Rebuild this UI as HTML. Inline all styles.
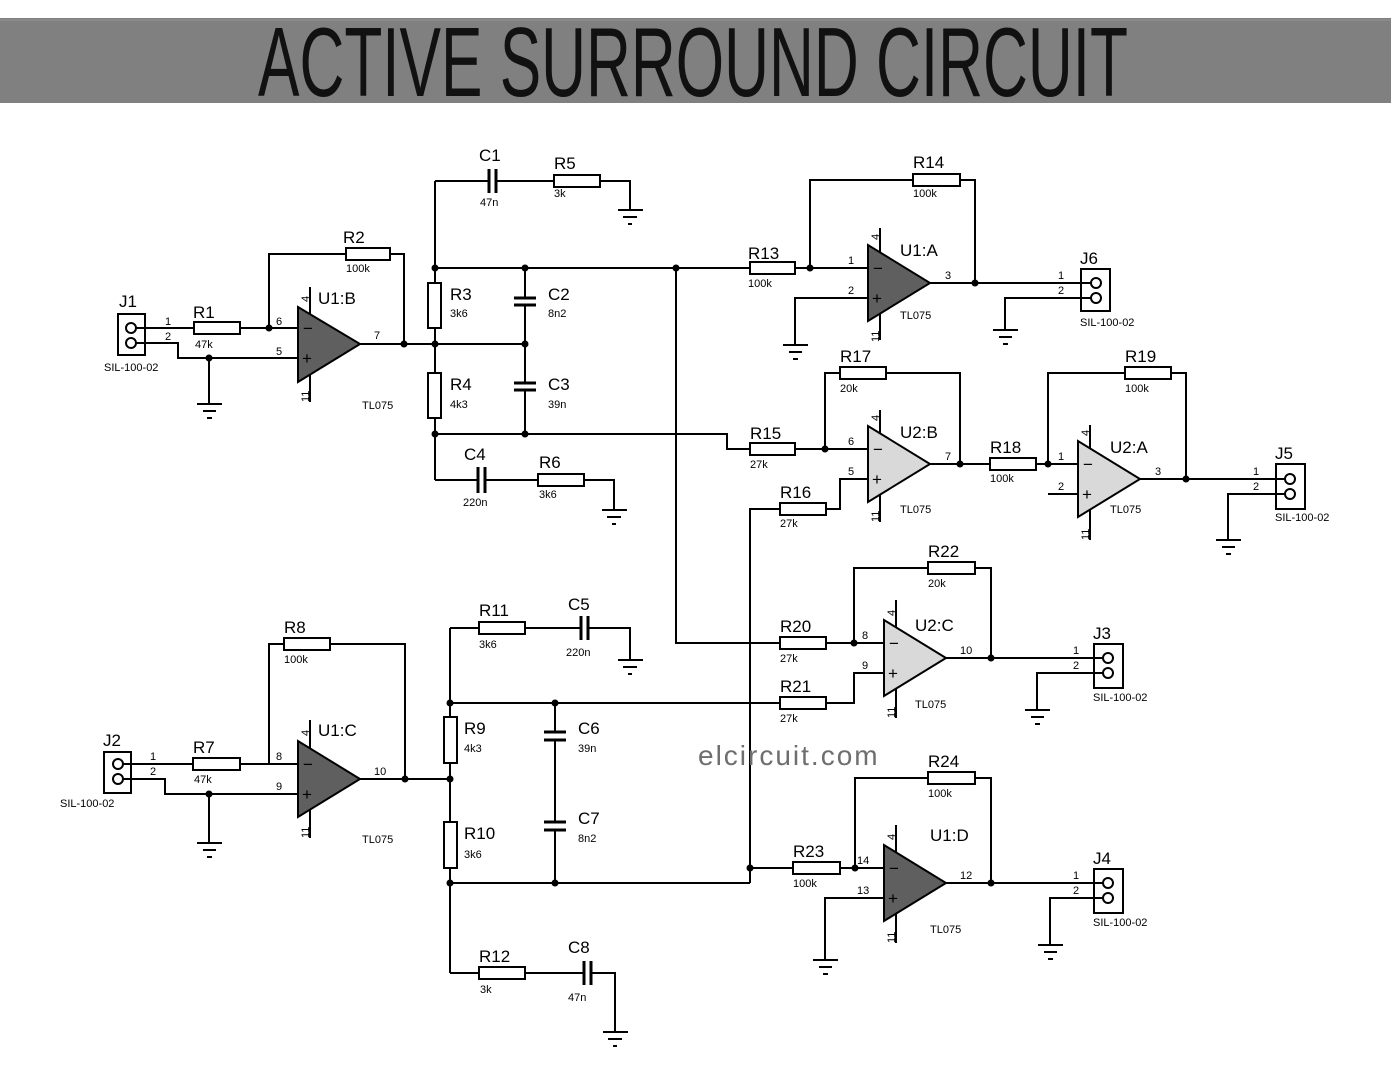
<!DOCTYPE html>
<html><head><meta charset="utf-8"><style>
html,body{margin:0;padding:0;background:#fff;}
svg{display:block;}
.w{stroke:#000;stroke-width:2;fill:none;}
.r{stroke:#000;stroke-width:2;fill:#fff;}
.c{stroke:#000;stroke-width:3;}
.ln{font-family:"Liberation Sans",sans-serif;font-size:17px;fill:#000;}
.v{font-family:"Liberation Sans",sans-serif;font-size:11px;fill:#000;}
.p{font-family:"Liberation Sans",sans-serif;font-size:11px;fill:#000;}
.d{fill:#000;}
.u1{fill:#5f5f5f;stroke:#000;stroke-width:2;}
.u2{fill:#d9d9d9;stroke:#000;stroke-width:2;}
.pm{font-family:"Liberation Sans",sans-serif;font-size:17px;fill:#000;}
</style></head><body>
<svg width="1393" height="1079" viewBox="0 0 1393 1079" xmlns="http://www.w3.org/2000/svg">
<rect x="0" y="18" width="1391" height="85" fill="#808080"/>
<line x1="0" y1="20" x2="1391" y2="20" stroke="#8a8a8a" stroke-width="2"/>
<text x="258" y="96" font-family="'Liberation Sans Narrow','Liberation Sans',sans-serif" font-size="98" textLength="870" lengthAdjust="spacingAndGlyphs" fill="#111">ACTIVE SURROUND CIRCUIT</text>

<!-- ========== J1 / U1:B ========== -->
<rect x="118" y="314" width="27" height="41" class="w"/>
<circle cx="131" cy="328" r="5" class="r" stroke-width="2.5"/>
<circle cx="131" cy="343" r="5" class="r" stroke-width="2.5"/>
<text x="119" y="307" class="ln">J1</text>
<text x="104" y="371" class="v">SIL-100-02</text>
<text x="165" y="325" class="p">1</text><text x="165" y="340" class="p">2</text>
<path d="M136 328H194M240 328H298M136 343H178V358H298" class="w"/>
<rect x="194" y="322" width="46" height="12" class="r"/>
<text x="193" y="318" class="ln">R1</text><text x="195" y="348" class="v">47k</text>
<circle cx="269" cy="328" r="3.5" class="d"/><circle cx="209" cy="358" r="3.5" class="d"/>
<path d="M209 358V404M197 404H222M203 411H216M207 418H212" class="w"/>
<text x="276" y="325" class="p">6</text><text x="276" y="355" class="p">5</text>
<path d="M269 328V254H346M390 254H404V344" class="w"/>
<rect x="346" y="248" width="44" height="12" class="r"/>
<text x="343" y="243" class="ln">R2</text><text x="346" y="272" class="v">100k</text>
<line x1="310" y1="287" x2="310" y2="402" class="w"/>
<polygon points="298,307 298,382 360,344" class="u1"/>
<text x="303" y="334" class="pm">−</text><text x="302" y="364" class="pm">+</text>
<text transform="translate(309,302) rotate(-90)" class="p">4</text>
<text transform="translate(309,402) rotate(-90)" class="p">11</text>
<text x="318" y="304" class="ln">U1:B</text><text x="362" y="409" class="v">TL075</text>
<text x="374" y="339" class="p">7</text>
<path d="M360 344H525" class="w"/>
<circle cx="404" cy="344" r="3.5" class="d"/><circle cx="435" cy="344" r="3.5" class="d"/><circle cx="525" cy="344" r="3.5" class="d"/>
<path d="M435 181V480" class="w"/>
<rect x="428" y="283" width="13" height="45" class="r"/>
<rect x="428" y="373" width="13" height="45" class="r"/>
<text x="450" y="300" class="ln">R3</text><text x="450" y="317" class="v">3k6</text>
<text x="450" y="390" class="ln">R4</text><text x="450" y="408" class="v">4k3</text>
<circle cx="435" cy="268" r="3.5" class="d"/><circle cx="435" cy="434" r="3.5" class="d"/>
<path d="M435 268H750" class="w"/>
<circle cx="525" cy="268" r="3.5" class="d"/><circle cx="676" cy="268" r="3.5" class="d"/>
<path d="M525 268V298M525 305V383M525 390V434" class="w"/>
<path d="M514 298H536M514 305H536M514 383H536M514 390H536" class="c"/>
<text x="548" y="300" class="ln">C2</text><text x="548" y="317" class="v">8n2</text>
<text x="548" y="390" class="ln">C3</text><text x="548" y="408" class="v">39n</text>
<path d="M435 434H727V449H750" class="w"/>
<circle cx="525" cy="434" r="3.5" class="d"/>
<!-- C1 R5 -->
<path d="M435 181H489M496 181H554M600 181H630V210M618 210H643M623 217H637M628 224H632" class="w"/>
<path d="M489 169V193M496 169V193" class="c"/>
<rect x="554" y="175" width="46" height="12" class="r"/>
<text x="479" y="161" class="ln">C1</text><text x="480" y="206" class="v">47n</text>
<text x="554" y="169" class="ln">R5</text><text x="554" y="197" class="v">3k</text>
<!-- C4 R6 -->
<path d="M435 480H478M485 480H538M584 480H614V510M602 510H627M607 517H621M612 524H616" class="w"/>
<path d="M478 467V493M485 467V493" class="c"/>
<rect x="538" y="474" width="46" height="12" class="r"/>
<text x="464" y="460" class="ln">C4</text><text x="463" y="506" class="v">220n</text>
<text x="539" y="468" class="ln">R6</text><text x="539" y="498" class="v">3k6</text>
<path d="M676 268V643H780" class="w"/>

<!-- ========== U1:A ========== -->
<rect x="750" y="262" width="45" height="12" class="r"/>
<text x="748" y="259" class="ln">R13</text><text x="748" y="287" class="v">100k</text>
<path d="M795 268H868" class="w"/><circle cx="810" cy="268" r="3.5" class="d"/>
<path d="M810 268V180H913M960 180H975V283" class="w"/>
<rect x="913" y="174" width="47" height="12" class="r"/>
<text x="913" y="168" class="ln">R14</text><text x="913" y="197" class="v">100k</text>
<line x1="880" y1="228" x2="880" y2="340" class="w"/>
<polygon points="868,245 868,321 930,283" class="u1"/>
<text x="873" y="274" class="pm">−</text><text x="872" y="304" class="pm">+</text>
<text transform="translate(879,240) rotate(-90)" class="p">4</text>
<text transform="translate(879,342) rotate(-90)" class="p">11</text>
<text x="900" y="256" class="ln">U1:A</text><text x="900" y="319" class="v">TL075</text>
<text x="848" y="264" class="p">1</text><text x="848" y="294" class="p">2</text><text x="945" y="279" class="p">3</text>
<path d="M930 283H1091M868 298H795V345M783 345H808M789 352H802M793 359H798" class="w"/>
<circle cx="975" cy="283" r="3.5" class="d"/>
<rect x="1081" y="269" width="29" height="42" class="w"/>
<circle cx="1096" cy="283" r="5" class="r" stroke-width="2.5"/><circle cx="1096" cy="298" r="5" class="r" stroke-width="2.5"/>
<text x="1080" y="264" class="ln">J6</text><text x="1080" y="326" class="v">SIL-100-02</text>
<text x="1058" y="279" class="p">1</text><text x="1058" y="294" class="p">2</text>
<path d="M1091 298H1005V330M993 330H1018M999 337H1012M1003 344H1008" class="w"/>

<!-- ========== U2:B ========== -->
<rect x="750" y="443" width="45" height="12" class="r"/>
<text x="750" y="439" class="ln">R15</text><text x="750" y="468" class="v">27k</text>
<path d="M795 449H868" class="w"/><circle cx="825" cy="449" r="3.5" class="d"/>
<path d="M825 449V373H840M886 373H960V464" class="w"/>
<rect x="840" y="367" width="46" height="12" class="r"/>
<text x="840" y="362" class="ln">R17</text><text x="840" y="392" class="v">20k</text>
<path d="M750 883V509H780M826 509H840V479H868" class="w"/>
<rect x="780" y="503" width="46" height="12" class="r"/>
<text x="780" y="498" class="ln">R16</text><text x="780" y="527" class="v">27k</text>
<line x1="880" y1="410" x2="880" y2="522" class="w"/>
<polygon points="868,426 868,502 930,464" class="u2"/>
<text x="873" y="455" class="pm">−</text><text x="872" y="485" class="pm">+</text>
<text transform="translate(879,421) rotate(-90)" class="p">4</text>
<text transform="translate(879,522) rotate(-90)" class="p">11</text>
<text x="900" y="438" class="ln">U2:B</text><text x="900" y="513" class="v">TL075</text>
<text x="848" y="445" class="p">6</text><text x="848" y="475" class="p">5</text><text x="945" y="460" class="p">7</text>
<path d="M930 464H990M1036 464H1078" class="w"/>
<circle cx="960" cy="464" r="3.5" class="d"/><circle cx="1048" cy="464" r="3.5" class="d"/>
<rect x="990" y="458" width="46" height="12" class="r"/>
<text x="990" y="453" class="ln">R18</text><text x="990" y="482" class="v">100k</text>

<!-- ========== U2:A ========== -->
<path d="M1048 464V373H1125M1171 373H1186V479" class="w"/>
<rect x="1125" y="367" width="46" height="12" class="r"/>
<text x="1125" y="362" class="ln">R19</text><text x="1125" y="392" class="v">100k</text>
<line x1="1090" y1="425" x2="1090" y2="540" class="w"/>
<polygon points="1078,441 1078,517 1140,479" class="u2"/>
<text x="1083" y="470" class="pm">−</text><text x="1082" y="500" class="pm">+</text>
<text transform="translate(1089,436) rotate(-90)" class="p">4</text>
<text transform="translate(1089,540) rotate(-90)" class="p">11</text>
<text x="1110" y="453" class="ln">U2:A</text><text x="1110" y="513" class="v">TL075</text>
<text x="1058" y="460" class="p">1</text><text x="1058" y="490" class="p">2</text><text x="1155" y="475" class="p">3</text>
<path d="M1048 494H1078M1140 479H1285" class="w"/>
<circle cx="1186" cy="479" r="3.5" class="d"/>
<rect x="1276" y="464" width="29" height="45" class="w"/>
<circle cx="1290" cy="479" r="5" class="r" stroke-width="2.5"/><circle cx="1290" cy="494" r="5" class="r" stroke-width="2.5"/>
<text x="1275" y="459" class="ln">J5</text><text x="1275" y="521" class="v">SIL-100-02</text>
<text x="1253" y="475" class="p">1</text><text x="1253" y="490" class="p">2</text>
<path d="M1285 494H1228V540M1216 540H1241M1222 547H1235M1226 554H1231" class="w"/>

<!-- ========== U2:C ========== -->
<rect x="780" y="637" width="46" height="12" class="r"/>
<text x="780" y="632" class="ln">R20</text><text x="780" y="662" class="v">27k</text>
<path d="M826 643H884" class="w"/><circle cx="854" cy="643" r="3.5" class="d"/>
<path d="M854 643V568H928M975 568H991V658" class="w"/>
<rect x="928" y="562" width="47" height="12" class="r"/>
<text x="928" y="557" class="ln">R22</text><text x="928" y="587" class="v">20k</text>
<path d="M450 703H780M826 703H854V673H884" class="w"/>
<rect x="780" y="697" width="46" height="12" class="r"/>
<text x="780" y="692" class="ln">R21</text><text x="780" y="722" class="v">27k</text>
<line x1="896" y1="600" x2="896" y2="718" class="w"/>
<polygon points="884,620 884,696 946,658" class="u2"/>
<text x="889" y="649" class="pm">−</text><text x="888" y="679" class="pm">+</text>
<text transform="translate(895,616) rotate(-90)" class="p">4</text>
<text transform="translate(895,718) rotate(-90)" class="p">11</text>
<text x="915" y="631" class="ln">U2:C</text><text x="915" y="708" class="v">TL075</text>
<text x="862" y="639" class="p">8</text><text x="862" y="669" class="p">9</text><text x="960" y="654" class="p">10</text>
<path d="M946 658H1103" class="w"/><circle cx="991" cy="658" r="3.5" class="d"/>
<rect x="1094" y="644" width="29" height="44" class="w"/>
<circle cx="1108" cy="658" r="5" class="r" stroke-width="2.5"/><circle cx="1108" cy="673" r="5" class="r" stroke-width="2.5"/>
<text x="1093" y="639" class="ln">J3</text><text x="1093" y="701" class="v">SIL-100-02</text>
<text x="1073" y="654" class="p">1</text><text x="1073" y="669" class="p">2</text>
<path d="M1103 673H1037V710M1025 710H1050M1031 717H1044M1035 724H1040" class="w"/>

<!-- ========== U1:D ========== -->
<circle cx="750" cy="868" r="3.5" class="d"/>
<path d="M750 868H793M840 868H884" class="w"/>
<rect x="793" y="862" width="47" height="12" class="r"/>
<text x="793" y="857" class="ln">R23</text><text x="793" y="887" class="v">100k</text>
<circle cx="855" cy="868" r="3.5" class="d"/>
<path d="M855 868V778H928M975 778H991V883" class="w"/>
<rect x="928" y="772" width="47" height="12" class="r"/>
<text x="928" y="767" class="ln">R24</text><text x="928" y="797" class="v">100k</text>
<line x1="896" y1="825" x2="896" y2="943" class="w"/>
<polygon points="884,845 884,921 946,883" class="u1"/>
<text x="889" y="874" class="pm">−</text><text x="888" y="904" class="pm">+</text>
<text transform="translate(895,840) rotate(-90)" class="p">4</text>
<text transform="translate(895,943) rotate(-90)" class="p">11</text>
<text x="930" y="841" class="ln">U1:D</text><text x="930" y="933" class="v">TL075</text>
<text x="857" y="864" class="p">14</text><text x="857" y="894" class="p">13</text><text x="960" y="879" class="p">12</text>
<path d="M884 898H825V960M813 960H838M819 967H832M823 974H828" class="w"/>
<path d="M946 883H1103" class="w"/><circle cx="991" cy="883" r="3.5" class="d"/>
<rect x="1094" y="869" width="29" height="44" class="w"/>
<circle cx="1108" cy="883" r="5" class="r" stroke-width="2.5"/><circle cx="1108" cy="898" r="5" class="r" stroke-width="2.5"/>
<text x="1093" y="864" class="ln">J4</text><text x="1093" y="926" class="v">SIL-100-02</text>
<text x="1073" y="879" class="p">1</text><text x="1073" y="894" class="p">2</text>
<path d="M1103 898H1050V945M1038 945H1063M1044 952H1057M1048 959H1053" class="w"/>

<!-- ========== J2 / U1:C ========== -->
<rect x="104" y="752" width="27" height="41" class="w"/>
<circle cx="118" cy="764" r="5" class="r" stroke-width="2.5"/><circle cx="118" cy="779" r="5" class="r" stroke-width="2.5"/>
<text x="103" y="746" class="ln">J2</text><text x="60" y="807" class="v">SIL-100-02</text>
<text x="150" y="760" class="p">1</text><text x="150" y="775" class="p">2</text>
<path d="M123 764H193M240 764H298M123 779H165V794H298" class="w"/>
<rect x="193" y="758" width="47" height="12" class="r"/>
<text x="193" y="753" class="ln">R7</text><text x="194" y="783" class="v">47k</text>
<circle cx="209" cy="794" r="3.5" class="d"/>
<path d="M209 794V843M197 843H222M203 850H216M207 857H212" class="w"/>
<text x="276" y="760" class="p">8</text><text x="276" y="790" class="p">9</text>
<path d="M269 764V644H284M330 644H405V779" class="w"/>
<rect x="284" y="638" width="46" height="12" class="r"/>
<text x="284" y="633" class="ln">R8</text><text x="284" y="663" class="v">100k</text>
<line x1="310" y1="720" x2="310" y2="838" class="w"/>
<polygon points="298,741 298,817 360,779" class="u1"/>
<text x="303" y="770" class="pm">−</text><text x="302" y="800" class="pm">+</text>
<text transform="translate(309,736) rotate(-90)" class="p">4</text>
<text transform="translate(309,838) rotate(-90)" class="p">11</text>
<text x="318" y="736" class="ln">U1:C</text><text x="362" y="843" class="v">TL075</text>
<text x="374" y="775" class="p">10</text>
<path d="M360 779H450M450 628V973" class="w"/>
<circle cx="405" cy="779" r="3.5" class="d"/><circle cx="450" cy="779" r="3.5" class="d"/>
<circle cx="450" cy="703" r="3.5" class="d"/><circle cx="450" cy="883" r="3.5" class="d"/>
<rect x="444" y="717" width="13" height="46" class="r"/>
<rect x="444" y="822" width="13" height="46" class="r"/>
<text x="464" y="734" class="ln">R9</text><text x="464" y="752" class="v">4k3</text>
<text x="464" y="839" class="ln">R10</text><text x="464" y="858" class="v">3k6</text>
<circle cx="555" cy="703" r="3.5" class="d"/><circle cx="555" cy="883" r="3.5" class="d"/>
<path d="M555 703V732M555 740V822M555 830V883M450 883H750" class="w"/>
<path d="M544 732H566M544 740H566M544 822H566M544 830H566" class="c"/>
<text x="578" y="734" class="ln">C6</text><text x="578" y="752" class="v">39n</text>
<text x="578" y="824" class="ln">C7</text><text x="578" y="842" class="v">8n2</text>
<!-- R11 C5 -->
<path d="M450 628H479M525 628H581M588 628H630V660M618 660H643M623 667H637M628 674H632" class="w"/>
<rect x="479" y="622" width="46" height="12" class="r"/>
<path d="M581 616V640M588 616V640" class="c"/>
<text x="479" y="616" class="ln">R11</text><text x="479" y="648" class="v">3k6</text>
<text x="568" y="610" class="ln">C5</text><text x="566" y="656" class="v">220n</text>
<!-- R12 C8 -->
<path d="M450 973H479M525 973H584M591 973H615V1032M603 1032H628M608 1039H622M613 1046H617" class="w"/>
<rect x="479" y="967" width="46" height="12" class="r"/>
<path d="M584 961V985M591 961V985" class="c"/>
<text x="479" y="962" class="ln">R12</text><text x="480" y="993" class="v">3k</text>
<text x="568" y="953" class="ln">C8</text><text x="568" y="1001" class="v">47n</text>

<text x="698" y="765" font-family="'Liberation Sans',sans-serif" font-size="28" letter-spacing="2" fill="#6e6e6e">elcircuit.com</text>
</svg>
</body></html>
